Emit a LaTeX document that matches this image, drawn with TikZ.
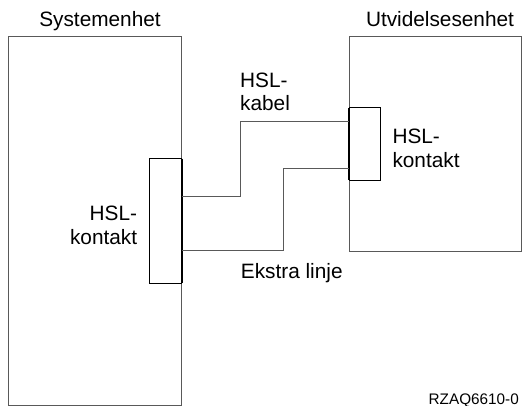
\documentclass[tikz,border=0pt]{standalone}
\usepackage{fontspec}
\setmainfont{Liberation Sans}
\begin{document}
\begin{tikzpicture}[x=1pt,y=-1pt,
  unit/.style={draw=black!65,line width=0.9pt},
  plug/.style={draw=black,line width=0.8pt},
  wire/.style={draw=black!65,line width=0.9pt},
  lbl/.style={inner sep=0pt,font=\fontsize{20.8}{23}\selectfont},
  small/.style={inner sep=0pt,font=\fontsize{15.3}{17}\selectfont}]
\useasboundingbox (0,0) rectangle (525,406);
% units
\draw[unit] (8.3,36.7) rectangle (181.7,405);
\draw[unit] (349,36.7) rectangle (521,251);
% connectors
\draw[plug,fill=white] (149.7,158.7) rectangle (181.7,283.3);
\draw[plug,fill=white] (349,107.7) rectangle (380.7,180.3);
\draw[line width=1.6pt] (181.7,158.7) -- (181.7,283.3);
\draw[line width=1.6pt] (349,107.7) -- (349,180.3);
\coordinate (a1) at (181.7,196.7);
\coordinate (b1) at (349,121.7);
\coordinate (a2) at (181.7,250.7);
\coordinate (b2) at (349,168);
\draw[wire] (a1) -| (240.3,121.7) -- (b1);
\draw[wire] (a2) -| (283.3,168) -- (b2);
% labels
\node[lbl,anchor=base] (t1) at (100,26.7) {Systemenhet};
\node[lbl,anchor=base] (t2) at (440,26.7) {Utvidelsesenhet};
\node[lbl,anchor=base east] (l1) at (137.3,220.7) {HSL-};
\node[lbl,anchor=base east] (l2) at (137.3,245) {kontakt};
\node[lbl,anchor=base west] (r1) at (392.3,144) {HSL-};
\node[lbl,anchor=base west] (r2) at (392.3,167.7) {kontakt};
\node[lbl,anchor=base west] (k1) at (240,87.3) {HSL-};
\node[lbl,anchor=base west] (k2) at (240,111) {kabel};
\node[lbl,anchor=base west] (e1) at (240.7,279) {Ekstra linje};
\node[small,anchor=base east] (id) at (519,404) {RZAQ6610-0};
\end{tikzpicture}
\end{document}
